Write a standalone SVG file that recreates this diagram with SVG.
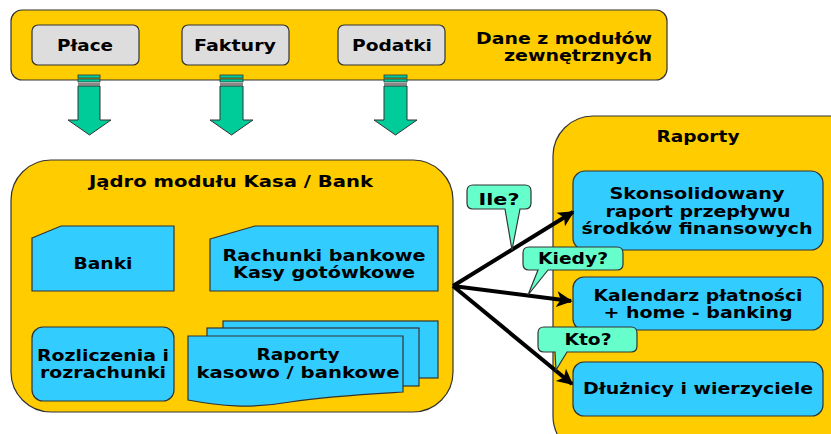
<svg xmlns="http://www.w3.org/2000/svg" width="831" height="434" viewBox="0 0 831 434">
<defs>
<style>
.panel{fill:#FFCC00;stroke:#333333;stroke-width:1.2}
.gray{fill:#DDDDDD;stroke:#333333;stroke-width:1.2}
.blue{fill:#33CCFF;stroke:#333333;stroke-width:1.2}
.ball{fill:#66FFCC;stroke:#333333;stroke-width:1.2}
.garrow{fill:#00CC99;stroke:#333333;stroke-width:1}
.gstripe{fill:#00CC99;stroke:#333333;stroke-width:0.8}
.conn{stroke:#000000;stroke-width:4;fill:none}
text{font-family:"DejaVu Sans","Liberation Sans",sans-serif;font-weight:bold;font-size:15px;fill:#000000;text-anchor:middle}
</style>
<marker id="ah" viewBox="0 0 10 10" refX="9" refY="5" markerWidth="4.5" markerHeight="4" orient="auto" markerUnits="strokeWidth">
<path d="M0,0 L10,5 L0,10 L2.5,5 Z" fill="#000000"/>
</marker>
</defs>
<rect width="831" height="434" fill="#FFFFFF"/>

<g id="panel-top">
<rect class="panel" x="11" y="10" width="656" height="70" rx="11"/>
<text x="564" y="44" textLength="176" lengthAdjust="spacingAndGlyphs">Dane z modułów</text>
<text x="578" y="61" textLength="148" lengthAdjust="spacingAndGlyphs">zewnętrznych</text>
</g>
<g id="node-place">
<rect class="gray" x="32" y="25" width="107" height="40" rx="6"/>
<text x="85" y="51" textLength="56" lengthAdjust="spacingAndGlyphs">Płace</text>
</g>
<g id="node-faktury">
<rect class="gray" x="182" y="25" width="107" height="40" rx="6"/>
<text x="235" y="51" textLength="82" lengthAdjust="spacingAndGlyphs">Faktury</text>
</g>
<g id="node-podatki">
<rect class="gray" x="338" y="25" width="107" height="40" rx="6"/>
<text x="392" y="51" textLength="80" lengthAdjust="spacingAndGlyphs">Podatki</text>
</g>

<g id="green-arrows">
<g id="garrow-1">
<rect class="gstripe" x="78" y="75" width="22" height="3"/>
<rect class="gstripe" x="78" y="79" width="22" height="3"/>
<rect x="78" y="83" width="22" height="2.5" fill="#888888"/>
<path class="garrow" d="M78,86 H100 V120 H111 L89.5,135 L68,120 H78 Z"/>
</g>
<g id="garrow-2">
<rect class="gstripe" x="220" y="75" width="23" height="3"/>
<rect class="gstripe" x="220" y="79" width="23" height="3"/>
<rect x="220" y="83" width="23" height="2.5" fill="#888888"/>
<path class="garrow" d="M220,86 H243 V120 H253 L231.5,135 L210,120 H220 Z"/>
</g>
<g id="garrow-3">
<rect class="gstripe" x="384" y="75" width="23" height="3"/>
<rect class="gstripe" x="384" y="79" width="23" height="3"/>
<rect x="384" y="83" width="23" height="2.5" fill="#888888"/>
<path class="garrow" d="M384,86 H407 V120 H417 L395.5,135 L374,120 H384 Z"/>
</g>
</g>

<g id="panel-core">
<rect class="panel" x="11" y="160" width="442" height="252" rx="40"/>
<text x="231" y="187" textLength="284" lengthAdjust="spacingAndGlyphs">Jądro modułu Kasa / Bank</text>
</g>
<g id="node-banki">
<path class="blue" d="M32,238 L61,226 H174 V291 H32 Z"/>
<text x="103" y="269" textLength="59" lengthAdjust="spacingAndGlyphs">Banki</text>
</g>
<g id="node-rachunki">
<path class="blue" d="M210,239 L255,226 H438 V291 H210 Z"/>
<text x="324" y="261" textLength="203" lengthAdjust="spacingAndGlyphs">Rachunki bankowe</text>
<text x="324" y="278" textLength="182" lengthAdjust="spacingAndGlyphs">Kasy gotówkowe</text>
</g>
<g id="node-rozliczenia">
<rect class="blue" x="32" y="327" width="142" height="74" rx="11"/>
<text x="103" y="361" textLength="132" lengthAdjust="spacingAndGlyphs">Rozliczenia i</text>
<text x="103" y="378" textLength="126" lengthAdjust="spacingAndGlyphs">rozrachunki</text>
</g>
<g id="node-raporty-kb">
<rect class="blue" x="223" y="321" width="215" height="57"/>
<rect class="blue" x="207" y="328" width="212" height="58"/>
<path class="blue" d="M188,336 H403 V392 C370,394 330,396 290,402 C250,409 220,406 188,400 Z"/>
<text x="298" y="360" textLength="83" lengthAdjust="spacingAndGlyphs">Raporty</text>
<text x="298" y="378" textLength="203" lengthAdjust="spacingAndGlyphs">kasowo / bankowe</text>
</g>

<g id="panel-raporty">
<rect class="panel" x="553" y="116" width="320" height="340" rx="40"/>
<text x="698" y="142" textLength="83" lengthAdjust="spacingAndGlyphs">Raporty</text>
</g>
<g id="node-skonsolidowany">
<rect class="blue" x="573" y="171" width="250" height="79" rx="12"/>
<text x="697" y="199" textLength="175" lengthAdjust="spacingAndGlyphs">Skonsolidowany</text>
<text x="698" y="217" textLength="185" lengthAdjust="spacingAndGlyphs">raport przepływu</text>
<text x="697" y="234" textLength="231" lengthAdjust="spacingAndGlyphs">środków finansowych</text>
</g>
<g id="node-kalendarz">
<rect class="blue" x="573" y="277" width="250" height="53" rx="11"/>
<text x="698" y="301" textLength="209" lengthAdjust="spacingAndGlyphs">Kalendarz płatności</text>
<text x="698" y="318" textLength="189" lengthAdjust="spacingAndGlyphs">+ home - banking</text>
</g>
<g id="node-dluznicy">
<rect class="blue" x="573" y="362" width="250" height="54" rx="11"/>
<text x="698" y="394" textLength="230" lengthAdjust="spacingAndGlyphs">Dłużnicy i wierzyciele</text>
</g>

<g id="connectors">
<line class="conn" x1="453" y1="286" x2="573" y2="212" marker-end="url(#ah)"/>
<line class="conn" x1="453" y1="286" x2="571" y2="301" marker-end="url(#ah)"/>
<line class="conn" x1="453" y1="286" x2="572" y2="384" marker-end="url(#ah)"/>
</g>

<g id="callout-ile">
<path class="ball" d="M473,185 H525 Q531,185 531,191 V203 Q531,209 525,209 H520 L512,250 L505,209 H473 Q467,209 467,203 V191 Q467,185 473,185 Z"/>
<text x="499" y="205" textLength="41" lengthAdjust="spacingAndGlyphs">Ile?</text>
</g>
<g id="callout-kiedy">
<path class="ball" d="M529,247 H617 Q623,247 623,253 V264 Q623,270 617,270 H548 L528,295 L538,270 H529 Q523,270 523,264 V253 Q523,247 529,247 Z"/>
<text x="573" y="264" textLength="70" lengthAdjust="spacingAndGlyphs">Kiedy?</text>
</g>
<g id="callout-kto">
<path class="ball" d="M544,327 H631 Q637,327 637,333 V346 Q637,352 631,352 H567 L556,370 L555,352 H544 Q538,352 538,346 V333 Q538,327 544,327 Z"/>
<text x="588" y="345" textLength="47" lengthAdjust="spacingAndGlyphs">Kto?</text>
</g>
</svg>
